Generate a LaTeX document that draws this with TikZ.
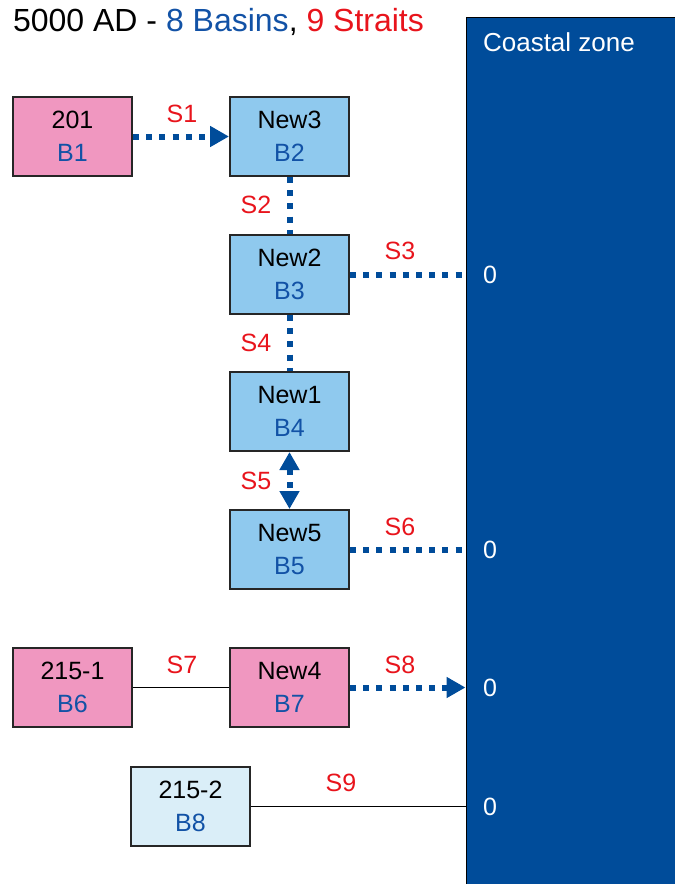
\documentclass[tikz,border=0pt]{standalone}
\usepackage{fontspec}
\setmainfont{Liberation Sans}
\usetikzlibrary{positioning, fit, arrows.meta}

\definecolor{basinpink}{HTML}{F097C0}
\definecolor{basinsky}{HTML}{8FC9EE}
\definecolor{basinpale}{HTML}{DAEEF8}
\definecolor{coastblue}{HTML}{004C9A}
\definecolor{basintext}{HTML}{1252A6}
\definecolor{straitred}{HTML}{E8141C}

\begin{document}
\begin{tikzpicture}[
    x=0.5pt, y=-0.5pt,
    basin/.style = {rectangle, draw=black!85, line width=1pt,
                    minimum width=59.5pt, minimum height=39.5pt,
                    inner sep=0pt, align=center,
                    font=\fontsize{12.5}{16.5}\selectfont},
    coastal/.style = {rectangle, draw=black, line width=0.5pt,
                      fill=coastblue, inner sep=0pt},
    dotline/.style = {draw=coastblue, line width=3pt,
                      dash pattern=on 3pt off 3.6pt},
    dotarr/.style  = {dotline, -{Triangle[length=9.5pt, width=10pt]}},
    dotboth/.style = {dotline, {Triangle[length=9pt, width=9.5pt]}-{Triangle[length=9pt, width=9.5pt]}},
    solidline/.style = {draw=black, line width=0.6pt},
    strait/.style = {text=straitred, font=\fontsize{12.5}{15}\selectfont},
    zero/.style   = {text=white, font=\fontsize{12.5}{15}\selectfont},
]

\useasboundingbox (0,0) rectangle (675,884);

%% ---- Layout coordinates ----
\def\xA{72.5}
\def\xB{289.5}
\def\xC{190.5}
\def\yA{136.5}
\def\yB{274.5}
\def\yC{411.5}
\def\yD{549.5}
\def\yE{687.5}
\def\yF{806.5}

%% ==================================================================
%% NODES
%% ==================================================================

\node[anchor=west, font=\fontsize{16}{19}\selectfont] (title) at (6,22)
    {5000 AD - {\color{basintext}8 Basins}, {\color{straitred}9 Straits}};

\node[coastal, fit={(466,17)(676,885)}] (coast) {};
\node[anchor=west, text=white, font=\fontsize{13}{15}\selectfont]
    (coastlbl) at (476,42) {Coastal zone};

\node[basin, fill=basinpink] (b1) at (\xA,\yA) {201\\{\color{basintext}B1}};
\node[basin, fill=basinsky]  (b2) at (\xB,\yA) {New3\\{\color{basintext}B2}};
\node[basin, fill=basinsky]  (b3) at (\xB,\yB) {New2\\{\color{basintext}B3}};
\node[basin, fill=basinsky]  (b4) at (\xB,\yC) {New1\\{\color{basintext}B4}};
\node[basin, fill=basinsky]  (b5) at (\xB,\yD) {New5\\{\color{basintext}B5}};
\node[basin, fill=basinpink] (b6) at (\xA,\yE) {215-1\\{\color{basintext}B6}};
\node[basin, fill=basinpink] (b7) at (\xB,\yE) {New4\\{\color{basintext}B7}};
\node[basin, fill=basinpale] (b8) at (\xC,\yF) {215-2\\{\color{basintext}B8}};

%% ==================================================================
%% CONNECTIONS
%% ==================================================================

\draw[dotarr]  (b1.east) -- (b2.west);
\draw[dotline] (b2.south) -- (b3.north);
\draw[dotline] (b3.east) -- (b3.east -| coast.west);
\draw[dotline] (b3.south) -- (b4.north);
\draw[dotboth] (b4.south) -- (b5.north);
\draw[dotline] (b5.east) -- (b5.east -| coast.west);
\draw[solidline] (b6.east) -- (b7.west);
\draw[dotarr]  (b7.east) -- (b7.east -| coast.west);
\draw[solidline] (b8.east) -- (b8.east -| coast.west);

%% Strait labels
\node[strait] (s1) at (182,114) {S1};
\node[strait] (s2) at (256,205) {S2};
\node[strait] (s3) at (400,251) {S3};
\node[strait] (s4) at (256,343) {S4};
\node[strait] (s5) at (256,481) {S5};
\node[strait] (s6) at (400,527) {S6};
\node[strait] (s7) at (182,665) {S7};
\node[strait] (s8) at (400,665) {S8};
\node[strait] (s9) at (341,783) {S9};

%% Coastal values
\node[zero] (z3) at (490,\yB) {0};
\node[zero] (z6) at (490,\yD) {0};
\node[zero] (z8) at (490,\yE) {0};
\node[zero] (z9) at (490,\yF) {0};

\end{tikzpicture}
\end{document}
